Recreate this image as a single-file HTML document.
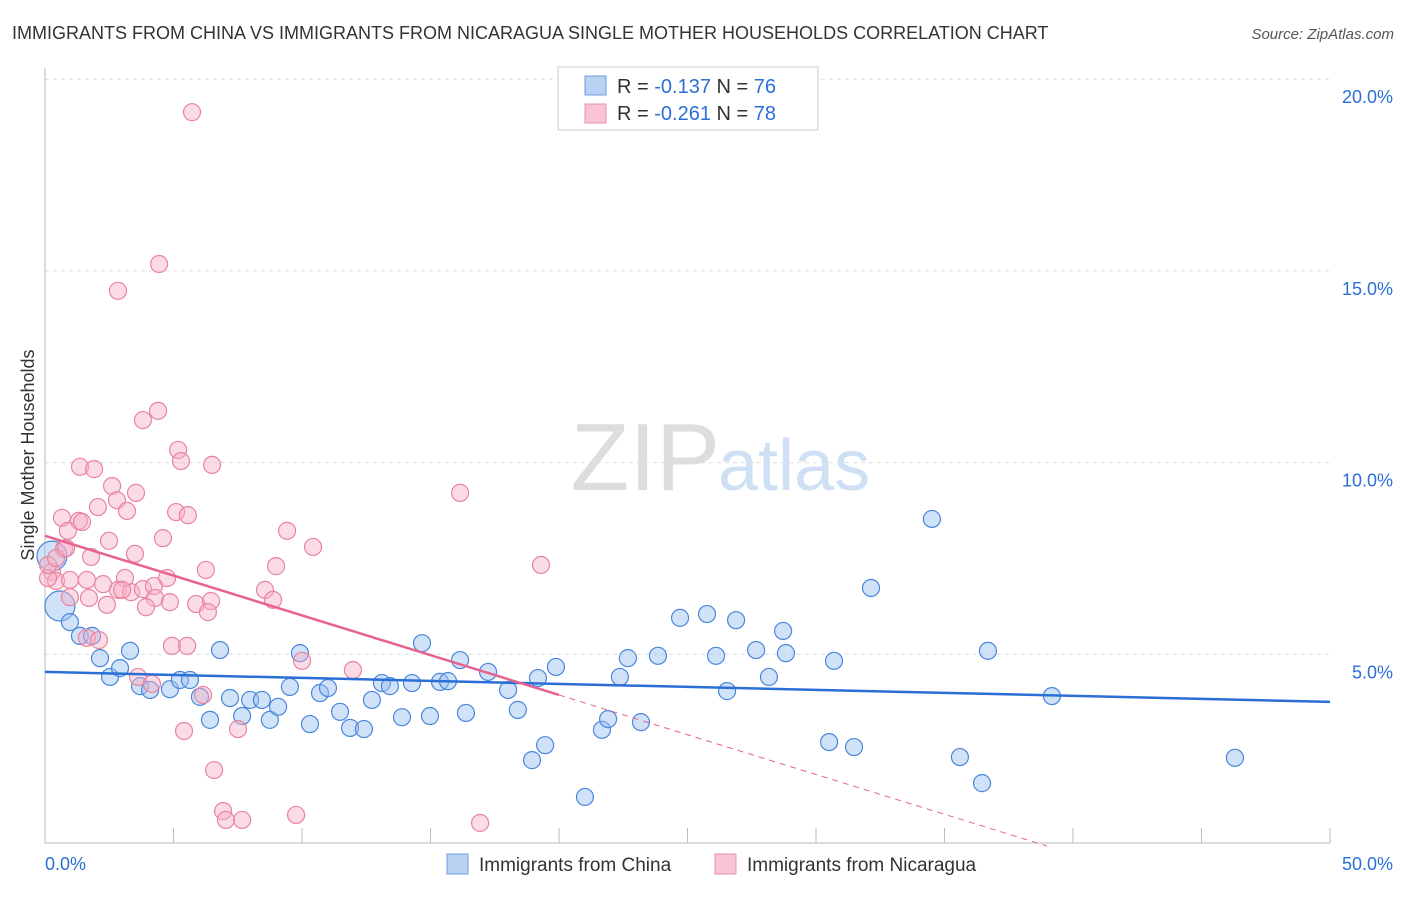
<!DOCTYPE html>
<html><head><meta charset="utf-8"><style>
body{margin:0;background:#fff;font-family:"Liberation Sans",sans-serif}
svg text{font-family:"Liberation Sans",sans-serif}
</style></head><body>
<svg id="c" width="1406" height="892">
<text x="12" y="39" font-size="18" fill="#333">IMMIGRANTS FROM CHINA VS IMMIGRANTS FROM NICARAGUA SINGLE MOTHER HOUSEHOLDS CORRELATION CHART</text>
<text x="1394" y="39" font-size="15" fill="#555" text-anchor="end" font-style="italic">Source: ZipAtlas.com</text>
<text x="720" y="490" font-size="96" fill="#ddd" text-anchor="end" font-family="Liberation Serif">ZIP</text>
<text x="718" y="490" font-size="72" fill="#cfe0f5">atlas</text>
<text transform="translate(34,455) rotate(-90)" font-size="18" fill="#333" text-anchor="middle">Single Mother Households</text>
<g id="grid"></g><g id="marks"></g><g id="lines"></g>
<g>
<rect x="558" y="67" width="260" height="63" fill="#fff" stroke="#ccc"/>
<rect x="585" y="76" width="21" height="19" fill="#b8d2f4" stroke="#6d9fe0"/>
<rect x="585" y="104" width="21" height="19" fill="#f9c4d4" stroke="#e890aa"/>
<text x="617" y="93" font-size="20" fill="#333">R = <tspan fill="#2b6fd6">-0.137</tspan>   N = <tspan fill="#2b6fd6">76</tspan></text>
<text x="617" y="120" font-size="20" fill="#333">R = <tspan fill="#2b6fd6">-0.261</tspan>   N = <tspan fill="#2b6fd6">78</tspan></text>
</g>
<g>
<rect x="447" y="854" width="21" height="20" fill="#b8d2f4" stroke="#6d9fe0"/>
<text x="479" y="871" font-size="19" fill="#333">Immigrants from China</text>
<rect x="715" y="854" width="21" height="20" fill="#f9c4d4" stroke="#e890aa"/>
<text x="747" y="871" font-size="19" fill="#333">Immigrants from Nicaragua</text>
</g>
</svg>
<script>
const yTicks=[5,10,15,20];
const xTickLabels=["0.0%","50.0%"];
const chinaX=[0.58,0.97,1.36,1.83,2.14,2.53,2.92,3.31,3.70,4.09,4.86,5.25,5.64,6.03,6.42,6.81,7.20,7.67,7.98,8.44,8.75,9.07,9.53,9.92,10.31,10.70,11.01,11.48,11.87,12.41,12.72,13.11,13.42,13.89,14.28,14.67,14.98,15.37,15.68,16.15,16.38,17.24,18.02,18.40,18.95,19.46,19.18,19.88,21.01,21.67,21.91,22.37,22.68,23.19,23.85,24.71,25.76,26.11,26.54,26.89,27.67,28.17,28.72,28.83,30.51,30.70,31.48,32.14,34.51,35.60,36.46,36.69,39.18,46.30,0.27];
const chinaY=[6.26,5.84,5.48,5.48,4.90,4.41,4.64,5.09,4.17,4.07,4.09,4.33,4.33,3.89,3.29,5.11,3.86,3.39,3.81,3.81,3.29,3.63,4.15,5.03,3.18,3.99,4.12,3.50,3.08,3.05,3.81,4.25,4.17,3.36,4.25,5.29,3.39,4.28,4.30,4.85,3.47,4.54,4.07,3.55,2.24,2.63,4.38,4.67,1.28,3.03,3.31,4.41,4.90,3.23,4.96,5.95,6.05,4.96,4.04,5.89,5.11,4.41,5.61,5.03,2.71,4.83,2.58,6.73,8.53,2.32,1.64,5.09,3.91,2.30,7.56];
const chinaSize=[2,1,1,1,1,1,1,1,1,1,1,1,1,1,1,1,1,1,1,1,1,1,1,1,1,1,1,1,1,1,1,1,1,1,1,1,1,1,1,1,1,1,1,1,1,1,1,1,1,1,1,1,1,1,1,1,1,1,1,1,1,1,1,1,1,1,1,1,1,1,1,1,1,1,2];
const nicX=[5.72,4.44,2.84,4.40,3.81,5.18,1.36,1.91,5.29,6.50,16.15,2.61,3.54,2.80,2.06,3.19,5.10,5.56,0.66,1.32,1.44,0.89,9.42,10.43,2.49,4.59,0.74,3.50,1.79,19.30,8.99,6.26,3.11,4.75,0.27,0.43,0.12,0.97,1.63,2.26,2.84,3.35,3.81,4.24,4.28,3.00,8.56,8.87,0.97,1.71,2.41,3.93,4.86,5.88,6.46,6.34,1.63,2.10,4.94,5.53,11.98,10.00,3.62,4.16,6.15,5.41,7.51,6.58,6.93,7.04,7.67,9.77,16.93,0.12,0.43,0.82];
const nicY=[19.14,15.18,14.48,11.35,11.11,10.33,9.89,9.83,10.04,9.94,9.21,9.39,9.21,9.02,8.84,8.74,8.71,8.63,8.56,8.48,8.45,8.22,8.22,7.80,7.96,8.03,7.75,7.62,7.54,7.33,7.30,7.20,6.99,6.99,7.15,6.91,6.99,6.94,6.94,6.83,6.68,6.62,6.70,6.78,6.47,6.68,6.68,6.42,6.49,6.47,6.29,6.23,6.36,6.31,6.39,6.10,5.43,5.37,5.22,5.22,4.59,4.83,4.41,4.23,3.94,3.00,3.05,1.98,0.91,0.68,0.68,0.81,0.60,7.33,7.51,7.77];
const chinaTrend=[4.54,3.76];
const nicTrend=[8.09,-0.2075];
const X=v=>45+v/50*1285, Y=v=>846-v/5*191.7;
const NS="http://www.w3.org/2000/svg";
function mk(t,a,p){const e=document.createElementNS(NS,t);for(const k in a)e.setAttribute(k,a[k]);p.appendChild(e);return e;}
const grid=document.getElementById('grid'),marks=document.getElementById('marks'),lines=document.getElementById('lines');
yTicks.forEach(t=>{
 const l=mk('line',{x1:45,x2:1330,y1:Y(t),y2:Y(t),stroke:'#ddd','stroke-dasharray':'4,4'},grid);
 
 
 const tx=mk('text',{x:1393,y:Y(t)+24,'font-size':18,fill:'#2b6fd6','text-anchor':'end'},grid);
 tx.textContent=t.toFixed(1)+'%';
 
 
});
const ax=mk('line',{x1:45,x2:45,y1:68,y2:843,stroke:'#bbb'},grid);


const bx=mk('line',{x1:45,x2:1330,y1:843,y2:843,stroke:'#bbb'},grid);


for(let i=0;i<=10;i++){const t=mk('line',{x1:X(i*5),x2:X(i*5),y1:828,y2:843,stroke:'#bbb'},grid);
 
 }
[[0,'start',45],[50,'end',1393]].forEach((d,i)=>{const t=mk('text',{x:d[2],y:870,'font-size':18,fill:'#2b6fd6','text-anchor':d[1]},grid);t.textContent=xTickLabels[i];
 
 });
chinaX.forEach((x,i)=>{const c=mk('circle',{cx:X(x),cy:Y(chinaY[i]),r:chinaSize[i]>1?15:8.5,fill:'rgba(150,190,240,0.45)',stroke:'#4a86dc','stroke-width':1.2},marks);
 
 });
nicX.forEach((x,i)=>{const c=mk('circle',{cx:X(x),cy:Y(nicY[i]),r:8.5,fill:'rgba(246,175,198,0.45)',stroke:'#e9849f','stroke-width':1.2},marks);
 
 });
const l1=mk('line',{x1:X(0),y1:Y(chinaTrend[0]),x2:X(50),y2:Y(chinaTrend[1]),stroke:'#2b6fd6','stroke-width':2.5},lines);


const nt=x=>nicTrend[0]+nicTrend[1]*x;
const l2=mk('line',{x1:X(0),y1:Y(nt(0)),x2:X(20),y2:Y(nt(20)),stroke:'#e8628e','stroke-width':2.5},lines);


const xe=-nicTrend[0]/nicTrend[1];
const l3=mk('line',{x1:X(20),y1:Y(nt(20)),x2:X(xe),y2:Y(0),stroke:'#e8628e','stroke-width':1,'stroke-dasharray':'6,5'},lines);


</script>
</body></html>
